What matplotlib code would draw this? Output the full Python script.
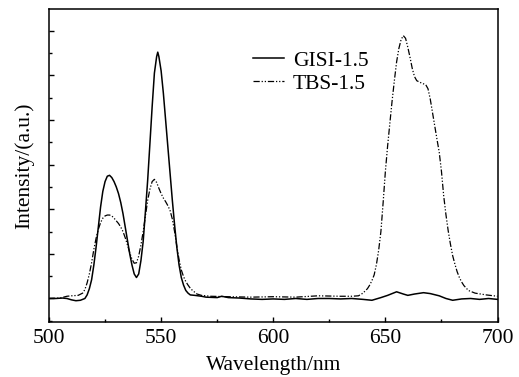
import matplotlib
matplotlib.use("Agg")
import matplotlib.pyplot as plt
from matplotlib.ticker import MultipleLocator, NullFormatter

plt.rcParams['font.family'] = ['Liberation Serif', 'DejaVu Serif']

# GISI-1.5 (solid)
gisi_wl = [500, 503, 506, 508, 510, 512, 514, 516, 517, 518, 519, 520, 521, 522, 523,
           524, 525, 526, 527, 528, 529, 530, 531, 532, 533, 534, 535, 536, 537, 538,
           539, 540, 541, 542, 543, 544, 545, 546, 547, 548, 548.5, 549, 550, 551, 552,
           553, 554, 555, 556, 557, 558, 559, 560, 561, 562, 563, 565, 568, 570, 575,
           577, 580, 585, 590, 595, 600, 605, 610, 615, 620, 625, 630, 635, 640, 644,
           648, 651, 655, 658, 660, 663, 667, 670, 674, 677, 680, 684, 688, 692, 696, 700]
gisi_int = [0.0, 0.0, 0.01, 0.0, -0.03, -0.05, -0.04, 0.0, 0.08, 0.22, 0.42, 0.75, 1.15, 1.6, 2.05,
            2.4, 2.62, 2.74, 2.76, 2.71, 2.62, 2.5, 2.35, 2.15, 1.9, 1.6, 1.3, 1.0, 0.75, 0.55,
            0.47, 0.55, 0.85, 1.28, 1.95, 2.65, 3.47, 4.3, 5.05, 5.42, 5.52, 5.42, 5.1, 4.6, 4.0,
            3.4, 2.8, 2.2, 1.65, 1.15, 0.75, 0.47, 0.3, 0.18, 0.12, 0.08, 0.07, 0.05, 0.03, 0.02,
            0.05, 0.02, 0.01, -0.01, -0.02, -0.01, -0.02, 0.0, -0.02, 0.0, 0.0, -0.01, 0.0, -0.02, -0.04,
            0.02, 0.07, 0.15, 0.10, 0.07, 0.10, 0.13, 0.11, 0.06, 0.0, -0.04, -0.01, 0.0, -0.02, 0.0, -0.02]

# TBS-1.5 (dash-dot-dot)
tbs_wl = [500, 505, 508, 510, 513, 515, 516, 517, 518, 519, 520, 521, 522, 523, 524,
          525, 526, 527, 528, 529, 530, 531, 532, 533, 534, 535, 536, 537, 538, 539,
          540, 541, 542, 543, 544, 545, 546, 547, 548, 549, 550, 551, 552, 553, 554,
          555, 556, 557, 558, 559, 560, 561, 562, 563, 564, 566, 568, 572, 580, 590,
          600, 610, 620, 630, 635, 638, 640, 642, 643, 644, 645, 646, 647, 648, 649,
          650, 651, 652, 653, 654, 655, 656, 657, 658, 659, 660, 661, 662, 663, 664,
          666, 668, 669, 670, 671, 672, 673, 674, 675, 676, 677, 678, 679, 680, 681,
          682, 683, 684, 685, 687, 690, 695, 700]
tbs_int = [0.0, 0.01, 0.05, 0.06, 0.07, 0.12, 0.2, 0.35, 0.55, 0.8, 1.1, 1.35, 1.55, 1.7, 1.8,
           1.85, 1.87, 1.87, 1.85, 1.80, 1.74, 1.68, 1.6, 1.5, 1.36, 1.2, 1.03, 0.88, 0.79, 0.80,
           0.95, 1.2, 1.5, 1.85, 2.2, 2.45, 2.62, 2.67, 2.6, 2.47, 2.35, 2.25, 2.17, 2.08, 1.97,
           1.78, 1.5, 1.17, 0.87, 0.64, 0.49, 0.38, 0.3, 0.23, 0.18, 0.1, 0.07, 0.05, 0.04, 0.03,
           0.04, 0.03, 0.06, 0.05, 0.05, 0.06, 0.12, 0.22, 0.3, 0.4, 0.53, 0.76, 1.08, 1.5, 2.15,
           2.85, 3.42, 3.93, 4.43, 4.88, 5.3, 5.6, 5.8, 5.89, 5.83, 5.63, 5.4, 5.15, 4.97, 4.88,
           4.83, 4.79, 4.7, 4.47, 4.17, 3.87, 3.57, 3.28, 2.85, 2.3, 1.88, 1.52, 1.22, 0.96, 0.77,
           0.6, 0.47, 0.37, 0.29, 0.18, 0.12, 0.08, 0.05]

series_labels = ["GISI-1.5", "TBS-1.5"]
x_ticks = [500, 550, 600, 650, 700]

FS = 15.5

fig = plt.figure(figsize=(5.19, 3.77), dpi=100)
ax = fig.add_axes([0.0944, 0.1467, 0.8642, 0.8286])

ax.plot(gisi_wl, gisi_int, color='black', lw=1.1, ls='-', label=series_labels[0])
ax.plot(tbs_wl, tbs_int, color='black', lw=0.9, ls=(0, (5, 1.5, 1, 1.5, 1, 1.5)),
        label=series_labels[1])

ax.set_xlim(500, 700)
ax.set_ylim(-0.52, 6.48)
ax.set_xticks(x_ticks)
ax.xaxis.set_minor_locator(MultipleLocator(25))
ax.yaxis.set_major_locator(MultipleLocator(1))
ax.yaxis.set_minor_locator(MultipleLocator(0.5))
ax.yaxis.set_major_formatter(NullFormatter())
ax.tick_params(which='both', direction='in', top=False, right=False, width=1.0)
ax.tick_params(which='major', length=3.5, labelsize=FS, pad=5)
ax.tick_params(which='minor', length=2)
for s in ax.spines.values():
    s.set_linewidth(1.1)

ax.set_xlabel("Wavelength/nm", fontsize=FS, labelpad=6)
ax.set_ylabel("Intensity/(a.u.)", fontsize=FS, labelpad=6)

ax.legend(loc='upper left', bbox_to_anchor=(0.455, 0.868), frameon=False, fontsize=FS,
          handlelength=1.45, handletextpad=0.4, labelspacing=0.15, borderpad=0,
          borderaxespad=0)

fig.savefig("out.png", dpi=100)
